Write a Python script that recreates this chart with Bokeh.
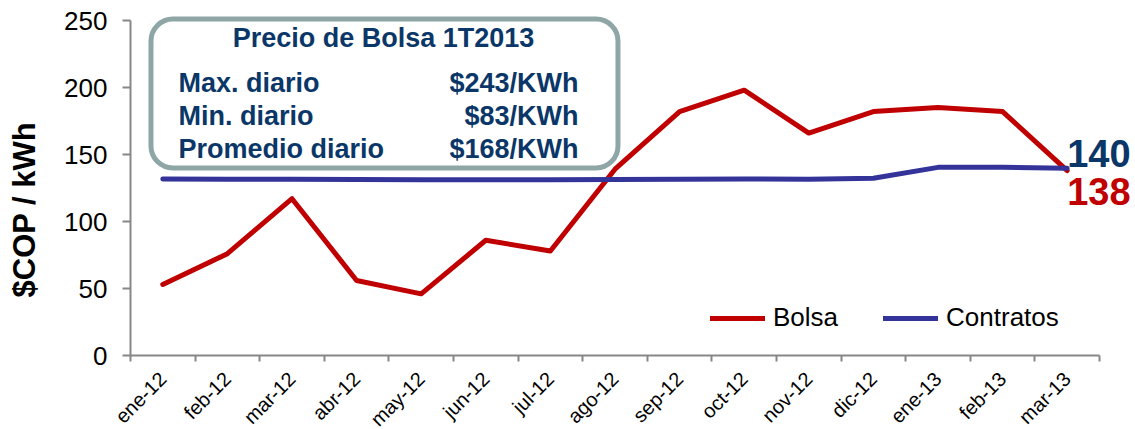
import math
from bokeh.plotting import figure
from bokeh.models import (FixedTicker, Range1d, Label, BoxAnnotation, Legend,
                          LegendItem, Title)
from bokeh.embed import file_html
from bokeh.resources import INLINE

# ---------------- data ----------------
months = ["ene-12", "feb-12", "mar-12", "abr-12", "may-12", "jun-12", "jul-12",
          "ago-12", "sep-12", "oct-12", "nov-12", "dic-12", "ene-13", "feb-13",
          "mar-13"]
bolsa = [53, 76, 117, 56, 46, 86, 78, 139, 182, 198, 166, 182, 185, 182, 138]
contratos = [131.8, 131.6, 131.5, 131.3, 131.1, 131.1, 131.2, 131.3, 131.6,
             131.8, 131.6, 132.3, 140.4, 140.5, 139.8]
y_ticks = [0, 50, 100, 150, 200, 250]
y_label = "$COP / kWh"
box_title = "Precio de Bolsa 1T2013"
box_rows = ["Max. diario", "Min. diario", "Promedio diario"]
box_values = ["$243/KWh", "$83/KWh", "$168/KWh"]

RED = "#C00000"
BLUE = "#333399"
NAVY = "#0B3768"
AXIS = "#878787"
FONT = "Liberation Sans"

xs = list(range(len(months)))
n = len(months)

W, H = 1135, 429
FRAME_LEFT = 41       # pixel column where the plotting frame starts
AXIS_X = 130          # pixel column of the y axis (category edge -0.5)
AXIS_Y = 355          # pixel row of the x axis (value 0)
px_per_cat = 64.6
px_per_val = 1.34
x_lo = -0.5 - (AXIS_X - FRAME_LEFT) / px_per_cat
x_hi = -0.5 + (W - AXIS_X) / px_per_cat
y_lo = -(H - AXIS_Y) / px_per_val
y_hi = AXIS_Y / px_per_val
DX = AXIS_X - FRAME_LEFT
DY = H - AXIS_Y

p = figure(width=W, height=H, output_backend="svg", toolbar_location=None,
           x_range=Range1d(x_lo, x_hi), y_range=Range1d(y_lo, y_hi),
           min_border_left=FRAME_LEFT, min_border_right=0, min_border_top=0,
           min_border_bottom=0)
p.outline_line_color = None
p.xgrid.visible = False
p.ygrid.visible = False
p.background_fill_color = "white"

r_bolsa = p.line(xs, bolsa, line_color=RED, line_width=5, line_join="round",
                 line_cap="round")
r_contr = p.line(xs, contratos, line_color=BLUE, line_width=5, line_join="round",
                 line_cap="round")

# x axis at value 0: labels at category centres, tick marks at boundaries
xa = p.xaxis[0]
xa.fixed_location = 0
xa.bounds = (-0.5, n - 0.5)
xa.ticker = FixedTicker(ticks=xs, minor_ticks=[i - 0.5 for i in range(n + 1)])
xa.major_label_overrides = {i: m for i, m in enumerate(months)}
xa.major_label_orientation = math.pi / 4
xa.major_label_text_font = FONT
xa.major_label_text_font_size = "20px"
xa.major_label_text_color = "black"
xa.major_tick_out = 0
xa.major_tick_in = 0
xa.minor_tick_out = 6
xa.minor_tick_in = 0
xa.minor_tick_line_color = AXIS
xa.minor_tick_line_width = 2
xa.axis_line_color = AXIS
xa.axis_line_width = 2
xa.major_label_standoff = 14

# y axis at the left edge of the first category
ya = p.yaxis[0]
ya.fixed_location = -0.5
ya.bounds = (0, 250)
ya.ticker = FixedTicker(ticks=y_ticks)
ya.major_label_text_font = FONT
ya.major_label_text_font_size = "26px"
ya.major_label_text_color = "black"
ya.major_tick_out = 8
ya.major_tick_in = 0
ya.minor_tick_line_color = None
ya.major_tick_line_color = AXIS
ya.major_tick_line_width = 2
ya.axis_line_color = AXIS
ya.axis_line_width = 2
ya.major_label_standoff = 15

# y axis title
p.add_layout(Title(text=y_label, align="left", offset=58 + DY, standoff=0,
                   text_font=FONT, text_font_style="bold", text_font_size="31px",
                   text_color="black"), "left")

# info box
p.add_layout(BoxAnnotation(left=-0.183, right=7.046, bottom=139.9, top=251.1,
                           fill_color="white", fill_alpha=1.0,
                           line_color="#8FA6A6", line_alpha=1.0, line_width=5,
                           border_radius=22, level="underlay"))
p.add_layout(Label(x=253 + DX, y=318 + DY, x_units="screen", y_units="screen",
                   text=box_title, text_align="center", text_baseline="alphabetic",
                   text_font=FONT, text_font_style="bold", text_font_size="27px",
                   text_color=NAVY))
for i, (lab, val) in enumerate(zip(box_rows, box_values)):
    yy = 273 - 33 * i + DY
    p.add_layout(Label(x=48 + DX, y=yy, x_units="screen", y_units="screen",
                       text=lab, text_align="left", text_baseline="alphabetic",
                       text_font=FONT, text_font_style="bold",
                       text_font_size="27px", text_color=NAVY))
    p.add_layout(Label(x=448 + DX, y=yy, x_units="screen", y_units="screen",
                       text=val, text_align="right", text_baseline="alphabetic",
                       text_font=FONT, text_font_style="bold",
                       text_font_size="27px", text_color=NAVY))

# end-of-series value labels
p.add_layout(Label(x=xs[-1], y=contratos[-1], text=str(round(contratos[-1])),
                   x_offset=0, y_offset=15, text_align="left",
                   text_baseline="alphabetic", text_font=FONT,
                   text_font_style="bold", text_font_size="38px", text_color=NAVY))
p.add_layout(Label(x=xs[-1], y=bolsa[-1], text=str(round(bolsa[-1])),
                   x_offset=0, y_offset=-21, text_align="left",
                   text_baseline="alphabetic", text_font=FONT,
                   text_font_style="bold", text_font_size="38px", text_color=RED))

legend = Legend(items=[LegendItem(label="Bolsa", renderers=[r_bolsa]),
                       LegendItem(label="Contratos", renderers=[r_contr])],
                orientation="horizontal", location=(580 + DX, 22 + DY),
                border_line_color=None, background_fill_alpha=0,
                label_text_font=FONT, label_text_font_size="26px",
                label_text_color="black", glyph_width=55, glyph_height=24,
                label_standoff=8, spacing=45, padding=0, margin=0)
p.add_layout(legend, "center")

open("out.html", "w").write(file_html(p, INLINE))
